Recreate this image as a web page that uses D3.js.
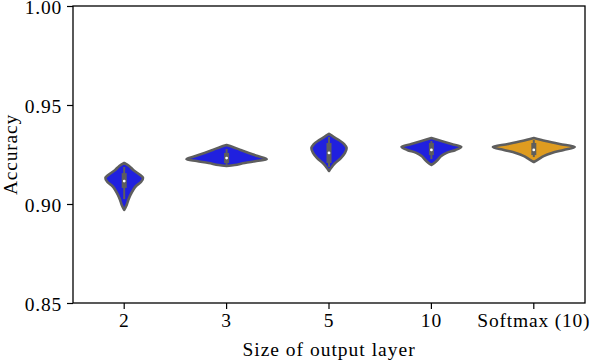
<!DOCTYPE html>
<html><head><meta charset="utf-8">
<script src="https://cdn.jsdelivr.net/npm/d3@7"></script>
<style>body{margin:0;background:#fff}</style>
</head><body>
<svg id="c" width="592" height="362"></svg>
<script>
const categories = ["2", "3", "5", "10", "Softmax (10)"];
const colors = ["#2020df", "#2020df", "#2020df", "#2020df", "#df9c20"];
const yTicks = [0.85, 0.90, 0.95, 1.00];
// density profiles: [accuracy value, relative density]
const profile2 = [[0.9207,0],[0.9192,0.12],[0.9172,0.22],[0.9146,0.39],[0.9131,0.46],[0.9111,0.41],[0.9091,0.29],[0.9071,0.22],[0.9045,0.15],[0.9020,0.10],[0.8995,0.06],[0.8970,0]];
const profile3 = [[0.9298,0],[0.9288,0.15],[0.9273,0.34],[0.9258,0.54],[0.9242,0.76],[0.9227,0.98],[0.9217,0.73],[0.9207,0.44],[0.9197,0.2],[0.9192,0]];
const profile5 = [[0.9354,0],[0.9338,0.12],[0.9323,0.24],[0.9303,0.37],[0.9283,0.43],[0.9258,0.39],[0.9232,0.29],[0.9207,0.15],[0.9187,0.07],[0.9167,0]];
const profile10 = [[0.9333,0],[0.9318,0.24],[0.9303,0.49],[0.9288,0.73],[0.9273,0.59],[0.9258,0.37],[0.9242,0.24],[0.9222,0.15],[0.9207,0.07],[0.9197,0]];
const profileSoftmax = [[0.9333,0],[0.9318,0.29],[0.9303,0.63],[0.9288,1.0],[0.9273,0.73],[0.9258,0.44],[0.9242,0.24],[0.9227,0.12],[0.9212,0]];
const profiles = [profile2, profile3, profile5, profile10, profileSoftmax];
// box stats: [whiskerLow, q1, median, q3, whiskerHigh]
const boxStats = [
  [0.9025, 0.9081, 0.9116, 0.9156, 0.9187],
  [0.9197, 0.9207, 0.9232, 0.9258, 0.9278],
  [0.9187, 0.9207, 0.9258, 0.9308, 0.9338],
  [0.9227, 0.9247, 0.9273, 0.9308, 0.9318],
  [0.9237, 0.9247, 0.9273, 0.9308, 0.9323]
];

const svg = d3.select("#c");
const L = 73, R = 585, T = 6, B = 303;
const font = "'Liberation Serif', serif";
const x = d3.scaleBand().domain(categories).range([L, R]);
const y = d3.scaleLinear().domain([0.85, 1.00]).range([B, T]);
const w = d3.scaleLinear().domain([0, 1]).range([0, x.bandwidth() * 0.4]);

const g = svg.append("g");
categories.forEach((c, i) => {
  const cx = x(c) + x.bandwidth() / 2;
  const area = d3.area()
    .y(d => y(d[0]))
    .x0(d => cx - w(d[1]))
    .x1(d => cx + w(d[1]))
    .curve(d3.curveCatmullRom.alpha(0.5));
  g.append("path").datum(profiles[i]).attr("d", area)
    .attr("fill", colors[i]).attr("stroke", "#5e5e5e").attr("stroke-width", 2.6)
    .attr("stroke-linejoin", "round");
  const s = boxStats[i];
  g.append("line").attr("x1", cx).attr("x2", cx).attr("y1", y(s[0])).attr("y2", y(s[4]))
    .attr("stroke", "#5e5e5e").attr("stroke-width", 2);
  g.append("rect").attr("x", cx - 2.5).attr("width", 5).attr("y", y(s[3])).attr("height", y(s[1]) - y(s[3]))
    .attr("fill", "#5e5e5e");
  g.append("circle").attr("cx", cx).attr("cy", y(s[2])).attr("r", 1.4).attr("fill", "#fff");
});

// axes
const ax = svg.append("g").attr("transform", `translate(0,${B})`).call(d3.axisBottom(x).tickSize(6).tickPadding(4));
const ay = svg.append("g").attr("transform", `translate(${L},0)`).call(d3.axisLeft(y).tickValues(yTicks).tickFormat(d3.format(".2f")).tickSize(6).tickPadding(5));
[ax, ay].forEach(a => {
  a.select(".domain").remove();
  a.selectAll("line").attr("stroke", "#000").attr("stroke-width", 1.2);
  a.selectAll("text").attr("font-family", font).attr("font-size", 19.5).attr("letter-spacing", "0.8px").attr("fill", "#000");
});
ay.selectAll("text").attr("dy", "0.4em");
svg.append("rect").attr("x", L).attr("y", T).attr("width", R - L).attr("height", B - T)
  .attr("fill", "none").attr("stroke", "#000").attr("stroke-width", 1.3);

svg.append("text").attr("x", (L + R) / 2).attr("y", 356).attr("text-anchor", "middle")
  .attr("font-family", font).attr("font-size", 19.5).attr("letter-spacing", "1px").text("Size of output layer");
svg.append("text").attr("transform", `translate(17,${(T + B) / 2}) rotate(-90)`).attr("text-anchor", "middle")
  .attr("font-family", font).attr("font-size", 19.5).attr("letter-spacing", "0.8px").text("Accuracy");
</script>
</body></html>
